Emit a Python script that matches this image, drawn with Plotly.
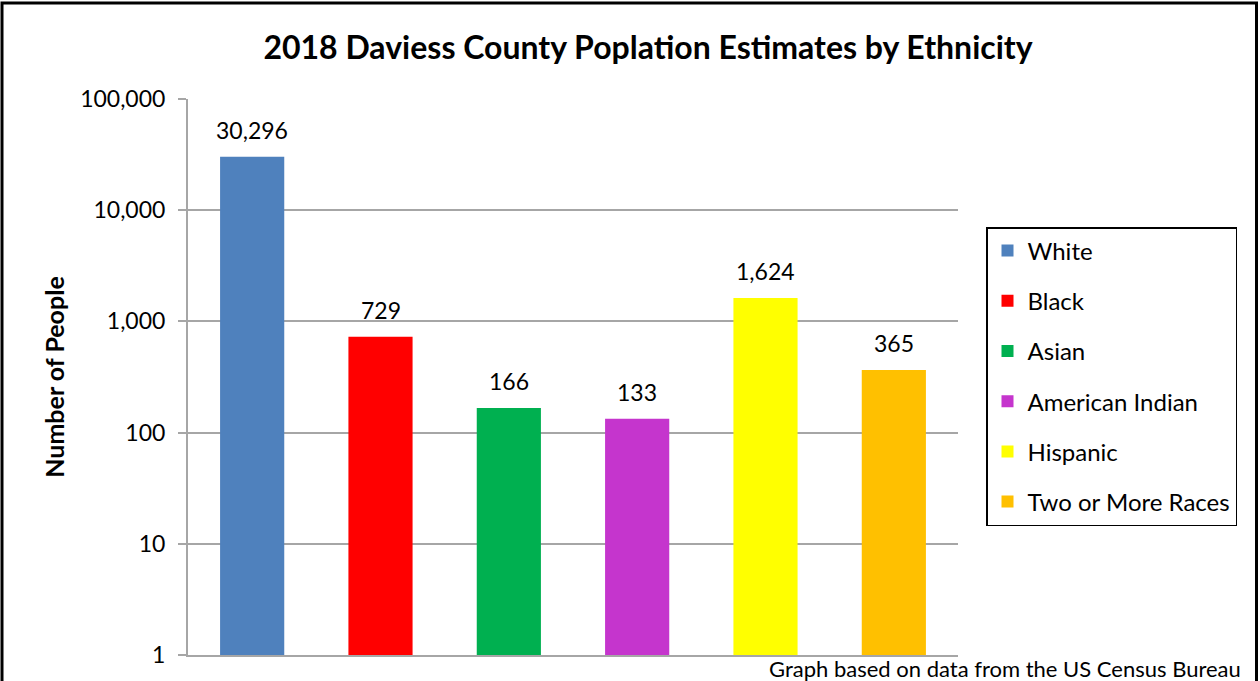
import math
import plotly.graph_objects as go

categories = ["White", "Black", "Asian", "American Indian", "Hispanic", "Two or More Races"]
values = [30296, 729, 166, 133, 1624, 365]
colors = ["#4F81BD", "#FF0000", "#00B050", "#C535CD", "#FFFF00", "#FFC000"]
tick_vals = [1, 10, 100, 1000, 10000, 100000]
tick_text = ["1", "10", "100", "1,000", "10,000", "100,000"]

FONT = "Lato, 'Open Sans', sans-serif"

L, R, T, B = 188, 958, 99, 655
W, H = 1260, 681
pw, ph = R - L, B - T
def px(x): return (x - L) / pw
def py(y): return (B - y) / ph

fig = go.Figure()
annotations = []
for c, v, col in zip(categories, values, colors):
    fig.add_trace(go.Bar(
        x=[c], y=[v], name=c, marker=dict(color=col, line=dict(width=0)),
        legendgroup=c, width=0.5,
    ))
    # annotation positions on a log axis are given in log10 units
    annotations.append(dict(x=c, y=math.log10(v), yref="y", xref="x", text=f"{v:,}",
                            showarrow=False, yanchor="middle", yshift=27,
                            font=dict(size=23, family=FONT, color="black")))

annotations.append(dict(text="Graph based on data from the US Census Bureau",
                        xref="paper", yref="paper", x=px(1243), y=py(668),
                        xanchor="right", yanchor="middle", showarrow=False,
                        font=dict(size=22, family=FONT, color="black")))

fig.update_layout(
    width=W, height=H,
    margin=dict(l=L, r=W - R, t=T, b=H - B),
    paper_bgcolor="white", plot_bgcolor="white",
    barmode="overlay",
    font=dict(family=FONT, color="black"),
    title=dict(text="<b>2018 Daviess County Poplation Estimates by Ethnicity</b>",
               x=(648) / W, xanchor="center", y=1 - 48 / H, yanchor="middle",
               font=dict(size=32, family=FONT, color="black")),
    showlegend=True,
    legend=dict(x=px(986), y=py(227), xanchor="left", yanchor="top",
                bordercolor="black", borderwidth=1.5, bgcolor="white",
                font=dict(size=24, family=FONT, color="black"),
                tracegroupgap=16, itemwidth=30, traceorder="grouped"),
    xaxis=dict(categoryorder="array", categoryarray=categories,
               showticklabels=False, ticks="", showline=True, linecolor="#A6A6A6",
               linewidth=2, showgrid=False, zeroline=False, fixedrange=True),
    yaxis=dict(type="log", range=[0, 5], tickvals=tick_vals, ticktext=tick_text,
               ticks="outside", ticklen=8, tickcolor="#A6A6A6", tickwidth=2,
               ticklabelstandoff=8,
               showline=True, linecolor="#A6A6A6", linewidth=2,
               showgrid=True, gridcolor="#A6A6A6", gridwidth=1.5,
               tickfont=dict(size=23, family=FONT, color="black"),
               title=dict(text="<b>Number of People</b>", standoff=8,
                          font=dict(size=25, family=FONT, color="black"))),
    shapes=[dict(type="rect", xref="paper", yref="paper",
                 x0=px(2), x1=px(1256.5), y0=py(700), y1=py(3),
                 line=dict(color="black", width=3), fillcolor="rgba(0,0,0,0)", layer="above")],
    annotations=annotations,
)

fig.write_html("out.html")
